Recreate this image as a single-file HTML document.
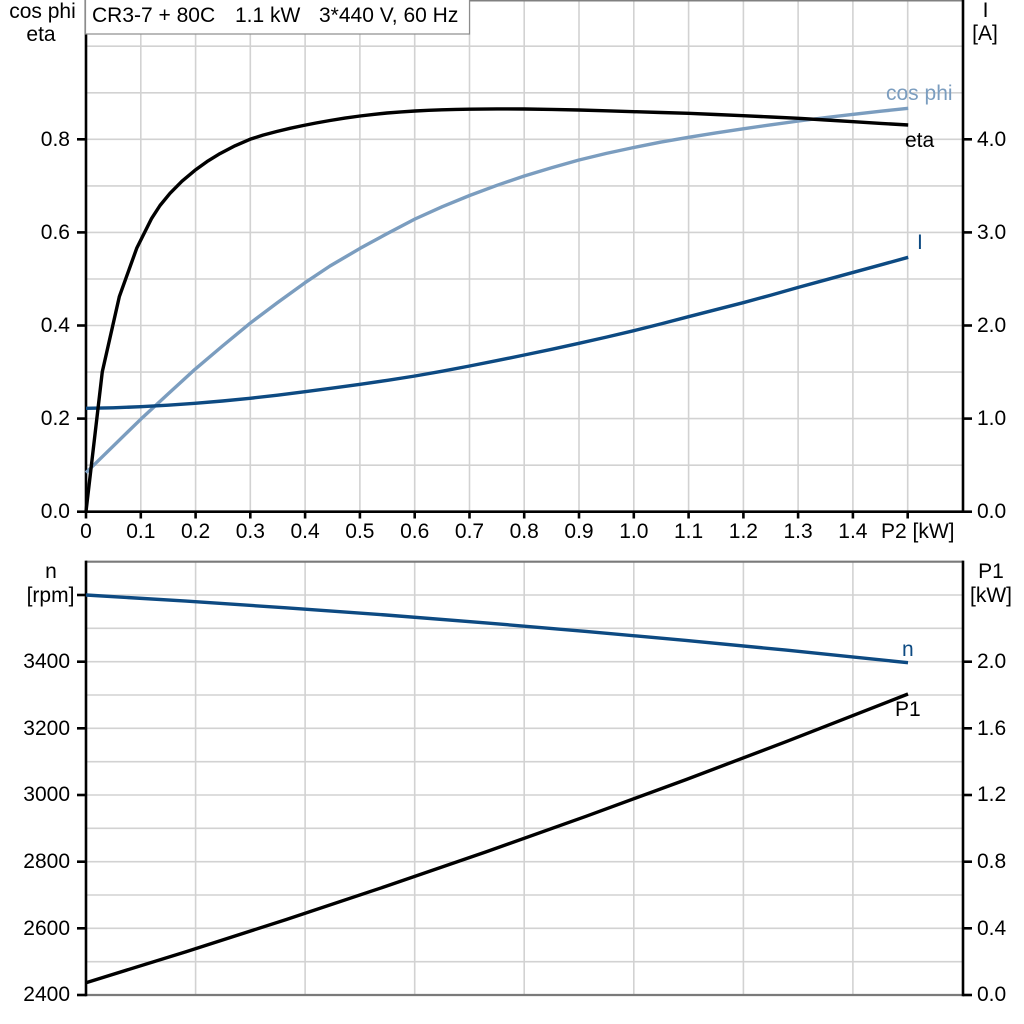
<!DOCTYPE html>
<html>
<head>
<meta charset="utf-8">
<style>
  html,body{margin:0;padding:0;background:#fff;}
  svg{display:block;}
  text{font-family:"Liberation Sans",Arial,sans-serif;font-size:21px;fill:#000;}
</style>
</head>
<body>
<svg width="1024" height="1024" viewBox="0 0 1024 1024" xmlns="http://www.w3.org/2000/svg">
  <rect x="0" y="0" width="1024" height="1024" fill="#fff"/>

  <!-- ============ TOP CHART ============ -->
  <g stroke="#d2d2d2" stroke-width="1.6" fill="none">
    <line x1="140.8" y1="0" x2="140.8" y2="511.7"/>
    <line x1="195.6" y1="0" x2="195.6" y2="511.7"/>
    <line x1="250.3" y1="0" x2="250.3" y2="511.7"/>
    <line x1="305.1" y1="0" x2="305.1" y2="511.7"/>
    <line x1="359.9" y1="0" x2="359.9" y2="511.7"/>
    <line x1="414.7" y1="0" x2="414.7" y2="511.7"/>
    <line x1="469.5" y1="0" x2="469.5" y2="511.7"/>
    <line x1="524.2" y1="0" x2="524.2" y2="511.7"/>
    <line x1="579.0" y1="0" x2="579.0" y2="511.7"/>
    <line x1="633.8" y1="0" x2="633.8" y2="511.7"/>
    <line x1="688.6" y1="0" x2="688.6" y2="511.7"/>
    <line x1="743.4" y1="0" x2="743.4" y2="511.7"/>
    <line x1="798.1" y1="0" x2="798.1" y2="511.7"/>
    <line x1="852.9" y1="0" x2="852.9" y2="511.7"/>
    <line x1="907.7" y1="0" x2="907.7" y2="511.7"/>
    <line x1="86" y1="465.2" x2="963" y2="465.2"/>
    <line x1="86" y1="418.6" x2="963" y2="418.6"/>
    <line x1="86" y1="372.1" x2="963" y2="372.1"/>
    <line x1="86" y1="325.5" x2="963" y2="325.5"/>
    <line x1="86" y1="279.0" x2="963" y2="279.0"/>
    <line x1="86" y1="232.4" x2="963" y2="232.4"/>
    <line x1="86" y1="185.9" x2="963" y2="185.9"/>
    <line x1="86" y1="139.3" x2="963" y2="139.3"/>
    <line x1="86" y1="92.8" x2="963" y2="92.8"/>
    <line x1="86" y1="46.2" x2="963" y2="46.2"/>
  </g>
  <line x1="86" y1="0.5" x2="963" y2="0.5" stroke="#808080" stroke-width="2"/>

  <g stroke="#000" stroke-width="2.6" fill="none">
    <line x1="86" y1="0" x2="86" y2="513"/>
    <line x1="963" y1="0" x2="963" y2="513"/>
    <line x1="85" y1="511.7" x2="964" y2="511.7"/>
    <line x1="77" y1="511.7" x2="86" y2="511.7"/>
    <line x1="77" y1="418.6" x2="86" y2="418.6"/>
    <line x1="77" y1="325.5" x2="86" y2="325.5"/>
    <line x1="77" y1="232.4" x2="86" y2="232.4"/>
    <line x1="77" y1="139.3" x2="86" y2="139.3"/>
    <line x1="963" y1="511.7" x2="972" y2="511.7"/>
    <line x1="963" y1="418.6" x2="972" y2="418.6"/>
    <line x1="963" y1="325.5" x2="972" y2="325.5"/>
    <line x1="963" y1="232.4" x2="972" y2="232.4"/>
    <line x1="963" y1="139.3" x2="972" y2="139.3"/>
    <line x1="86" y1="511.7" x2="86" y2="518.5"/>
    <line x1="140.8" y1="511.7" x2="140.8" y2="518.5"/>
    <line x1="195.6" y1="511.7" x2="195.6" y2="518.5"/>
    <line x1="250.3" y1="511.7" x2="250.3" y2="518.5"/>
    <line x1="305.1" y1="511.7" x2="305.1" y2="518.5"/>
    <line x1="359.9" y1="511.7" x2="359.9" y2="518.5"/>
    <line x1="414.7" y1="511.7" x2="414.7" y2="518.5"/>
    <line x1="469.5" y1="511.7" x2="469.5" y2="518.5"/>
    <line x1="524.2" y1="511.7" x2="524.2" y2="518.5"/>
    <line x1="579.0" y1="511.7" x2="579.0" y2="518.5"/>
    <line x1="633.8" y1="511.7" x2="633.8" y2="518.5"/>
    <line x1="688.6" y1="511.7" x2="688.6" y2="518.5"/>
    <line x1="743.4" y1="511.7" x2="743.4" y2="518.5"/>
    <line x1="798.1" y1="511.7" x2="798.1" y2="518.5"/>
    <line x1="852.9" y1="511.7" x2="852.9" y2="518.5"/>
    <line x1="907.7" y1="511.7" x2="907.7" y2="518.5"/>
  </g>

  <!-- curves top -->
  <polyline fill="none" stroke="#7b9dbf" stroke-width="3.4" stroke-linejoin="round" stroke-linecap="butt"
    points="86,472.7 113,446.3 140.7,419.3 168,394 195,369.3 222.5,346 250,323.3 277.5,302.6 305,282.7 330,266 360.2,248.3 387.6,233.4 415,219 442.3,206.7 469.6,195.5 497,185.3 524.3,176 551.6,167.7 579,160 606.4,153.4 633.8,147.5 661,142.1 688.5,137.3 715.8,132.9 743.2,128.8 771,124.8 798.7,121 826,117.5 853.5,114.3 881,111.2 908.2,108.3"/>
  <polyline fill="none" stroke="#0d4a82" stroke-width="3.4" stroke-linejoin="round" stroke-linecap="butt"
    points="86,408.3 113,407.8 140.7,406.7 168,405.2 195,403.3 222.5,401 250,398.3 277.5,395.2 305,391.7 332.6,388.1 360.2,384.3 387.6,380.3 415,376 442.3,371.2 469.6,366 497,360.6 524.3,355 551.6,349.3 579,343.3 606.4,337.1 633.8,330.7 661,323.9 688.5,316.7 715.8,309.7 743.2,302.7 771,295.1 798.7,287.3 826,279.8 853.5,272.3 881,264.8 908.2,257.3"/>
  <polyline fill="none" stroke="#000" stroke-width="3.4" stroke-linejoin="round" stroke-linecap="butt"
    points="86,511.5 102.3,371.7 119.3,296.7 136.7,248.3 151.7,218.3 160,205.5 170,193.3 182,181.2 195,170.3 207,161.6 220,153.6 235,145.8 250,139.3 263,135.1 276.7,131.5 290,128.3 303.3,125.5 316,123 330,120.5 345,118.1 360,116 373.5,114.4 387,113 401,111.9 415,111 428.5,110.3 442,109.8 456,109.4 469.6,109.2 497,108.9 524.3,109 551.6,109.4 579,110 606.4,110.8 633.8,111.7 661,112.5 688.5,113.3 715.8,114.5 743.2,115.7 771,117 798.7,118.3 826,120 853.5,121.7 881,123.4 908.2,125"/>

  <text x="886" y="100" style="fill:#7b9dbf">cos phi</text>
  <text x="905" y="147">eta</text>
  <text x="917" y="249" style="fill:#0d4a82">I</text>

  <!-- title box -->
  <rect x="85.5" y="-1" width="384" height="35" fill="#fff" stroke="#8c8c8c" stroke-width="1.2"/>
  <text x="92" y="22">CR3-7 + 80C</text>
  <text x="235" y="22">1.1 kW</text>
  <text x="319" y="22">3*440 V, 60 Hz</text>

  <text x="42.5" y="18" text-anchor="middle">cos phi</text>
  <text x="41" y="41" text-anchor="middle">eta</text>
  <text x="70" y="518" text-anchor="end">0.0</text>
  <text x="70" y="425" text-anchor="end">0.2</text>
  <text x="70" y="332" text-anchor="end">0.4</text>
  <text x="70" y="239" text-anchor="end">0.6</text>
  <text x="70" y="146" text-anchor="end">0.8</text>

  <text x="985.5" y="17" text-anchor="middle">I</text>
  <text x="985" y="40" text-anchor="middle">[A]</text>
  <text x="977" y="518">0.0</text>
  <text x="977" y="425">1.0</text>
  <text x="977" y="332">2.0</text>
  <text x="977" y="239">3.0</text>
  <text x="977" y="146">4.0</text>

  <g text-anchor="middle">
    <text x="86" y="538">0</text>
    <text x="140.8" y="538">0.1</text>
    <text x="195.6" y="538">0.2</text>
    <text x="250.3" y="538">0.3</text>
    <text x="305.1" y="538">0.4</text>
    <text x="359.9" y="538">0.5</text>
    <text x="414.7" y="538">0.6</text>
    <text x="469.5" y="538">0.7</text>
    <text x="524.2" y="538">0.8</text>
    <text x="579.0" y="538">0.9</text>
    <text x="633.8" y="538">1.0</text>
    <text x="688.6" y="538">1.1</text>
    <text x="743.4" y="538">1.2</text>
    <text x="798.1" y="538">1.3</text>
    <text x="852.9" y="538">1.4</text>
  </g>
  <text x="881" y="538">P2 [kW]</text>

  <!-- ============ BOTTOM CHART ============ -->
  <g stroke="#d2d2d2" stroke-width="1.6" fill="none">
    <line x1="195.6" y1="561.7" x2="195.6" y2="995"/>
    <line x1="305.1" y1="561.7" x2="305.1" y2="995"/>
    <line x1="414.7" y1="561.7" x2="414.7" y2="995"/>
    <line x1="524.2" y1="561.7" x2="524.2" y2="995"/>
    <line x1="633.8" y1="561.7" x2="633.8" y2="995"/>
    <line x1="743.4" y1="561.7" x2="743.4" y2="995"/>
    <line x1="852.9" y1="561.7" x2="852.9" y2="995"/>
    <line x1="86" y1="961.7" x2="963" y2="961.7"/>
    <line x1="86" y1="928.3" x2="963" y2="928.3"/>
    <line x1="86" y1="895.0" x2="963" y2="895.0"/>
    <line x1="86" y1="861.7" x2="963" y2="861.7"/>
    <line x1="86" y1="828.3" x2="963" y2="828.3"/>
    <line x1="86" y1="795.0" x2="963" y2="795.0"/>
    <line x1="86" y1="761.7" x2="963" y2="761.7"/>
    <line x1="86" y1="728.3" x2="963" y2="728.3"/>
    <line x1="86" y1="695.0" x2="963" y2="695.0"/>
    <line x1="86" y1="661.7" x2="963" y2="661.7"/>
    <line x1="86" y1="628.3" x2="963" y2="628.3"/>
    <line x1="86" y1="595.0" x2="963" y2="595.0"/>
  </g>
  <line x1="86" y1="561.7" x2="963" y2="561.7" stroke="#7a7a7a" stroke-width="2.2"/>
  <line x1="86" y1="995" x2="963" y2="995" stroke="#7a7a7a" stroke-width="2.2"/>
  <g stroke="#000" stroke-width="2.6" fill="none">
    <line x1="86" y1="560.6" x2="86" y2="996.2"/>
    <line x1="963" y1="560.6" x2="963" y2="996.2"/>
    <line x1="77" y1="995" x2="86" y2="995"/>
    <line x1="77" y1="928.3" x2="86" y2="928.3"/>
    <line x1="77" y1="861.7" x2="86" y2="861.7"/>
    <line x1="77" y1="795" x2="86" y2="795"/>
    <line x1="77" y1="728.3" x2="86" y2="728.3"/>
    <line x1="77" y1="661.7" x2="86" y2="661.7"/>
    <line x1="77" y1="595" x2="86" y2="595"/>
    <line x1="963" y1="995" x2="972" y2="995"/>
    <line x1="963" y1="928.3" x2="972" y2="928.3"/>
    <line x1="963" y1="861.7" x2="972" y2="861.7"/>
    <line x1="963" y1="795" x2="972" y2="795"/>
    <line x1="963" y1="728.3" x2="972" y2="728.3"/>
    <line x1="963" y1="661.7" x2="972" y2="661.7"/>
  </g>

  <polyline fill="none" stroke="#0d4a82" stroke-width="3.4" stroke-linejoin="round"
    points="86,595 186,601.1 286,607.8 386,615 486,622.9 586,631.4 686,640.4 786,650.1 908,662.7"/>
  <polyline fill="none" stroke="#000" stroke-width="3.4" stroke-linejoin="round"
    points="86,982.7 186,951.7 286,919.6 386,886.3 486,851.9 586,816.3 686,779.6 786,741.7 908,694"/>

  <text x="902" y="656" style="fill:#0d4a82">n</text>
  <text x="895" y="716">P1</text>

  <text x="51" y="578" text-anchor="middle">n</text>
  <text x="50.5" y="602" text-anchor="middle">[rpm]</text>
  <text x="70" y="668" text-anchor="end">3400</text>
  <text x="70" y="735" text-anchor="end">3200</text>
  <text x="70" y="801" text-anchor="end">3000</text>
  <text x="70" y="868" text-anchor="end">2800</text>
  <text x="70" y="935" text-anchor="end">2600</text>
  <text x="70" y="1001" text-anchor="end">2400</text>

  <text x="991" y="578" text-anchor="middle">P1</text>
  <text x="991" y="602" text-anchor="middle">[kW]</text>
  <text x="977" y="668">2.0</text>
  <text x="977" y="735">1.6</text>
  <text x="977" y="801">1.2</text>
  <text x="977" y="868">0.8</text>
  <text x="977" y="935">0.4</text>
  <text x="977" y="1001">0.0</text>
</svg>
</body>
</html>
